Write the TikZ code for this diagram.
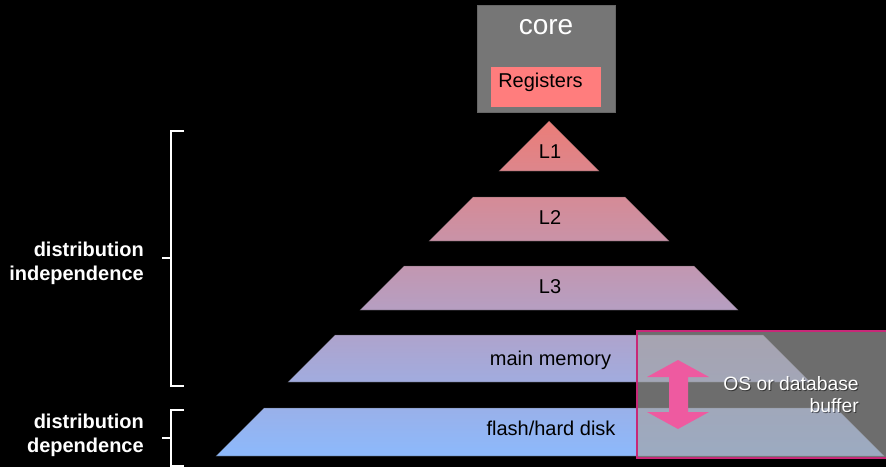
\documentclass[tikz,border=0pt]{standalone}
\usepackage{fontspec}
\setmainfont{Liberation Sans}
\definecolor{pyrA}{RGB}{235,125,120}
\definecolor{pyrB}{RGB}{140,185,252}
\definecolor{coregray}{RGB}{118,118,118}
\definecolor{regred}{RGB}{255,125,125}
\definecolor{bufborder}{RGB}{200,40,120}
\definecolor{bufgray}{RGB}{164,164,164}
\definecolor{arrpink}{RGB}{238,90,160}
\tikzset{
  slice/.style={draw=black!70, draw opacity=0.4, line width=0.5pt},
  lvl/.style={font=\fontsize{15}{18}\selectfont, text=black, inner sep=0pt, anchor=base},
  side/.style={font=\fontsize{15}{18}\selectfont\bfseries, text=white, inner sep=0pt, anchor=base east},
  brack/.style={draw=white, line width=1.5pt},
  buftext/.style={font=\fontsize{14.5}{18}\selectfont, inner sep=0pt, anchor=base east}
}
\begin{document}
\begin{tikzpicture}[x=0.75pt,y=-0.75pt]
\clip (0,0) rectangle (886,467);
\fill[black] (0,0) rectangle (886,467);
% core box
\node[draw=black!60, fill=coregray, minimum width=138*0.75pt, minimum height=107*0.75pt, inner sep=0pt, anchor=north west] (core) at (477,5) {};
\node[text=white, font=\fontsize{21}{25}\selectfont, inner sep=0pt, anchor=base] (coret) at (546,35) {core};
\node[fill=regred, minimum width=110*0.75pt, minimum height=40*0.75pt, inner sep=0pt, anchor=north west] (reg) at (491,67) {};
\node[text=black, font=\fontsize{15}{18}\selectfont, inner sep=0pt, anchor=base west] (regt) at (498,88) {Registers};
% pyramid slices (45 degree sides, apex at (549,121))
\shade[slice, top color=pyrA!100!pyrB, bottom color=pyrA!85!pyrB] (549,121) -- (599,171) -- (499,171) -- cycle;
\shade[slice, top color=pyrA!77!pyrB, bottom color=pyrA!64!pyrB] (473,197) -- (625,197) -- (669,241) -- (429,241) -- cycle;
\shade[slice, top color=pyrA!57!pyrB, bottom color=pyrA!44!pyrB] (404,266) -- (694,266) -- (738,310) -- (360,310) -- cycle;
\shade[slice, top color=pyrA!36!pyrB, bottom color=pyrA!22!pyrB] (335,335) -- (763,335) -- (810,382) -- (288,382) -- cycle;
\shade[slice, top color=pyrA!14!pyrB, bottom color=pyrA!0!pyrB] (264,408) -- (836,408) -- (884,456) -- (216,456) -- cycle;
\node[lvl] (l1) at (550,158) {L1};
\node[lvl] (l2) at (550,224) {L2};
\node[lvl] (l3) at (550,293) {L3};
\node[lvl] (mm) at (550.5,365) {main memory};
\node[lvl] (fd) at (551,435) {flash/hard disk};
% buffer overlay
\fill[bufgray, fill opacity=0.67] (637,331) rectangle (895,458);
\draw[bufborder, line width=1.8pt] (637,331) rectangle (895,458);
\fill[arrpink] (678,360) -- (709,377) -- (688,377) -- (688,412) -- (709,412) -- (678,429) -- (647,412) -- (669,412) -- (669,377) -- (647,377) -- cycle;
\node[buftext, text=black, opacity=0.5] (os1s) at (860,391) {OS or database};
\node[buftext, text=black, opacity=0.5] (os2s) at (860,413) {buffer};
\node[buftext, text=white] (os1) at (859,390) {OS or database};
\node[buftext, text=white] (os2) at (859,412) {buffer};
% brackets
\draw[brack] (184,131) -- (171,131) -- (171,386) -- (184,386);
\draw[brack] (162,258) -- (171,258);
\draw[brack] (184,410) -- (171,410) -- (171,466) -- (184,466);
\draw[brack] (162,438) -- (171,438);
\node[side] (d1) at (144,256) {distribution};
\node[side] (d2) at (144,280) {independence};
\node[side] (d3) at (144,428) {distribution};
\node[side] (d4) at (144,452) {dependence};
\end{tikzpicture}
\end{document}
